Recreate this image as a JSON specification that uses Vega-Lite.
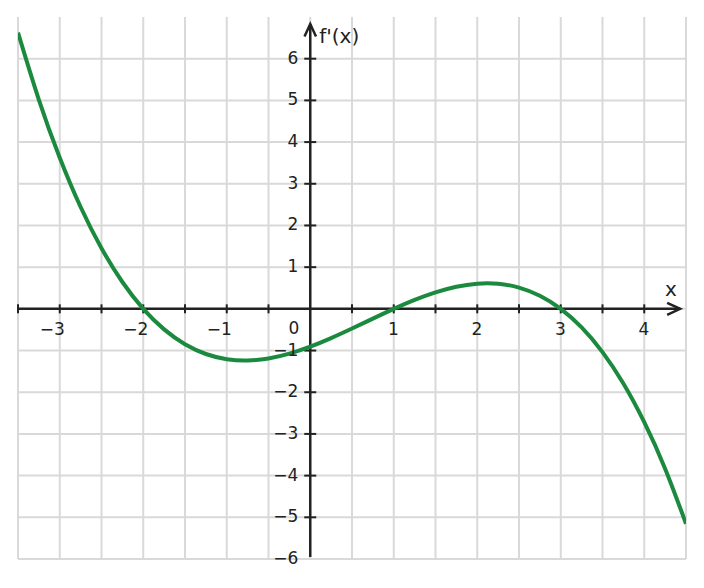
{
  "$schema": "https://vega.github.io/schema/vega-lite/v6.json",
  "width": 668,
  "height": 542,
  "autosize": {"type": "none"},
  "padding": {"left": 18, "top": 17, "right": 18, "bottom": 29},
  "background": "white",
  "config": {"view": {"stroke": null}},
  "layer": [
    {
      "data": {"values": [{"x": -3.5}, {"x": -3}, {"x": -2.5}, {"x": -2}, {"x": -1.5}, {"x": -1}, {"x": -0.5}, {"x": 0}, {"x": 0.5}, {"x": 1}, {"x": 1.5}, {"x": 2}, {"x": 2.5}, {"x": 3}, {"x": 3.5}, {"x": 4}, {"x": 4.5}]},
      "mark": {"type": "rule", "color": "#d9d9d9", "strokeWidth": 2},
      "encoding": {"x": {"field": "x", "type": "quantitative", "scale": {"domain": [-3.5, 4.5], "nice": false, "zero": false}, "axis": null}}
    },
    {
      "data": {"values": [{"y": -6}, {"y": -5}, {"y": -4}, {"y": -3}, {"y": -2}, {"y": -1}, {"y": 0}, {"y": 1}, {"y": 2}, {"y": 3}, {"y": 4}, {"y": 5}, {"y": 6}]},
      "mark": {"type": "rule", "color": "#d9d9d9", "strokeWidth": 2},
      "encoding": {"y": {"field": "y", "type": "quantitative", "scale": {"domain": [-6, 7], "nice": false, "zero": false}, "axis": null}}
    },
    {
      "data": {"values": [{"x": -3.5, "x2": 4.43, "y": 0, "y2": 0}, {"x": 0, "x2": 0, "y": -5.95, "y2": 6.83}]},
      "mark": {"type": "rule", "color": "#222222", "strokeWidth": 2.5},
      "encoding": {
        "x": {"field": "x", "type": "quantitative", "scale": {"domain": [-3.5, 4.5], "nice": false, "zero": false}, "axis": null},
        "x2": {"field": "x2"},
        "y": {"field": "y", "type": "quantitative", "scale": {"domain": [-6, 7], "nice": false, "zero": false}, "axis": null},
        "y2": {"field": "y2"}
      }
    },
    {
      "data": {"values": [{"x": -3.5, "y": 0}, {"x": -3, "y": 0}, {"x": -2.5, "y": 0}, {"x": -2, "y": 0}, {"x": -1.5, "y": 0}, {"x": -1, "y": 0}, {"x": -0.5, "y": 0}, {"x": 0.5, "y": 0}, {"x": 1, "y": 0}, {"x": 1.5, "y": 0}, {"x": 2, "y": 0}, {"x": 2.5, "y": 0}, {"x": 3, "y": 0}, {"x": 3.5, "y": 0}, {"x": 4, "y": 0}]},
      "mark": {"type": "tick", "orient": "vertical", "color": "#222222", "thickness": 2, "size": 9, "opacity": 1},
      "encoding": {
        "x": {"field": "x", "type": "quantitative", "scale": {"domain": [-3.5, 4.5], "nice": false, "zero": false}, "axis": null},
        "y": {"field": "y", "type": "quantitative", "scale": {"domain": [-6, 7], "nice": false, "zero": false}, "axis": null}
      }
    },
    {
      "data": {"values": [{"x": 0, "y": -5}, {"x": 0, "y": -4}, {"x": 0, "y": -3}, {"x": 0, "y": -2}, {"x": 0, "y": -1}, {"x": 0, "y": 1}, {"x": 0, "y": 2}, {"x": 0, "y": 3}, {"x": 0, "y": 4}, {"x": 0, "y": 5}, {"x": 0, "y": 6}]},
      "mark": {"type": "tick", "orient": "horizontal", "color": "#222222", "thickness": 2, "size": 12, "opacity": 1},
      "encoding": {
        "x": {"field": "x", "type": "quantitative", "scale": {"domain": [-3.5, 4.5], "nice": false, "zero": false}, "axis": null},
        "y": {"field": "y", "type": "quantitative", "scale": {"domain": [-6, 7], "nice": false, "zero": false}, "axis": null}
      }
    },
    {
      "data": {"values": [
        {"x": -3.5, "y": 6.625}, {"x": -3.25, "y": 5.014}, {"x": -3, "y": 3.624}, {"x": -2.75, "y": 2.442},
        {"x": -2.5, "y": 1.453}, {"x": -2.25, "y": 0.644}, {"x": -2, "y": 0}, {"x": -1.75, "y": -0.493},
        {"x": -1.5, "y": -0.849}, {"x": -1.25, "y": -1.083}, {"x": -1, "y": -1.208}, {"x": -0.75, "y": -1.239},
        {"x": -0.5, "y": -1.189}, {"x": -0.25, "y": -1.073}, {"x": 0, "y": -0.906}, {"x": 0.25, "y": -0.701},
        {"x": 0.5, "y": -0.472}, {"x": 0.75, "y": -0.234}, {"x": 1, "y": 0}, {"x": 1.25, "y": 0.215},
        {"x": 1.5, "y": 0.396}, {"x": 1.75, "y": 0.531}, {"x": 2, "y": 0.604}, {"x": 2.25, "y": 0.602},
        {"x": 2.5, "y": 0.51}, {"x": 2.75, "y": 0.314}, {"x": 3, "y": 0}, {"x": 3.25, "y": -0.446},
        {"x": 3.5, "y": -1.038}, {"x": 3.75, "y": -1.791}, {"x": 4, "y": -2.718}, {"x": 4.25, "y": -3.834},
        {"x": 4.5, "y": -5.153}
      ]},
      "mark": {"type": "line", "color": "#1b8a3e", "strokeWidth": 4, "interpolate": "natural", "clip": true},
      "encoding": {
        "x": {"field": "x", "type": "quantitative", "scale": {"domain": [-3.5, 4.5], "nice": false, "zero": false}, "axis": null},
        "y": {"field": "y", "type": "quantitative", "scale": {"domain": [-6, 7], "nice": false, "zero": false}, "axis": null}
      }
    },
    {
      "data": {"values": [{"x": 4.43, "y": 0}]},
      "mark": {"type": "point", "shape": "M-1,-0.46L0,0L-1,0.46", "size": 676, "filled": false, "stroke": "#222222", "strokeWidth": 2.5, "opacity": 1},
      "encoding": {
        "x": {"field": "x", "type": "quantitative", "scale": {"domain": [-3.5, 4.5], "nice": false, "zero": false}, "axis": null},
        "y": {"field": "y", "type": "quantitative", "scale": {"domain": [-6, 7], "nice": false, "zero": false}, "axis": null}
      }
    },
    {
      "data": {"values": [{"x": 0, "y": 6.83}]},
      "mark": {"type": "point", "shape": "M-0.46,1L0,0L0.46,1", "size": 625, "filled": false, "stroke": "#222222", "strokeWidth": 2.5, "opacity": 1},
      "encoding": {
        "x": {"field": "x", "type": "quantitative", "scale": {"domain": [-3.5, 4.5], "nice": false, "zero": false}, "axis": null},
        "y": {"field": "y", "type": "quantitative", "scale": {"domain": [-6, 7], "nice": false, "zero": false}, "axis": null}
      }
    },
    {
      "data": {"values": [{"x": -3, "y": 0, "t": "−3"}, {"x": -2, "y": 0, "t": "−2"}, {"x": -1, "y": 0, "t": "−1"}, {"x": 1, "y": 0, "t": "1"}, {"x": 2, "y": 0, "t": "2"}, {"x": 3, "y": 0, "t": "3"}, {"x": 4, "y": 0, "t": "4"}]},
      "mark": {"type": "text", "font": "DejaVu Sans", "fontSize": 17, "color": "#222222", "align": "right", "baseline": "alphabetic", "dx": 5, "dy": 26.5},
      "encoding": {
        "x": {"field": "x", "type": "quantitative", "scale": {"domain": [-3.5, 4.5], "nice": false, "zero": false}, "axis": null},
        "y": {"field": "y", "type": "quantitative", "scale": {"domain": [-6, 7], "nice": false, "zero": false}, "axis": null},
        "text": {"field": "t"}
      }
    },
    {
      "data": {"values": [{"x": 0, "y": 6, "t": "6"}, {"x": 0, "y": 5, "t": "5"}, {"x": 0, "y": 4, "t": "4"}, {"x": 0, "y": 3, "t": "3"}, {"x": 0, "y": 2, "t": "2"}, {"x": 0, "y": 1, "t": "1"}, {"x": 0, "y": -1, "t": "−1"}, {"x": 0, "y": -2, "t": "−2"}, {"x": 0, "y": -3, "t": "−3"}, {"x": 0, "y": -4, "t": "−4"}, {"x": 0, "y": -5, "t": "−5"}, {"x": 0, "y": -6, "t": "−6"}]},
      "mark": {"type": "text", "font": "DejaVu Sans", "fontSize": 17, "color": "#222222", "align": "right", "baseline": "alphabetic", "dx": -12, "dy": 5},
      "encoding": {
        "x": {"field": "x", "type": "quantitative", "scale": {"domain": [-3.5, 4.5], "nice": false, "zero": false}, "axis": null},
        "y": {"field": "y", "type": "quantitative", "scale": {"domain": [-6, 7], "nice": false, "zero": false}, "axis": null},
        "text": {"field": "t"}
      }
    },
    {
      "data": {"values": [{"x": 0, "y": 0, "t": "0"}]},
      "mark": {"type": "text", "font": "DejaVu Sans", "fontSize": 17, "color": "#222222", "align": "right", "baseline": "alphabetic", "dx": -11, "dy": 25.5},
      "encoding": {
        "x": {"field": "x", "type": "quantitative", "scale": {"domain": [-3.5, 4.5], "nice": false, "zero": false}, "axis": null},
        "y": {"field": "y", "type": "quantitative", "scale": {"domain": [-6, 7], "nice": false, "zero": false}, "axis": null},
        "text": {"field": "t"}
      }
    },
    {
      "data": {"values": [{"x": 0, "y": 7, "t": "f'(x)"}]},
      "mark": {"type": "text", "font": "DejaVu Sans", "fontSize": 20, "color": "#222222", "align": "left", "baseline": "alphabetic", "dx": 9, "dy": 26},
      "encoding": {
        "x": {"field": "x", "type": "quantitative", "scale": {"domain": [-3.5, 4.5], "nice": false, "zero": false}, "axis": null},
        "y": {"field": "y", "type": "quantitative", "scale": {"domain": [-6, 7], "nice": false, "zero": false}, "axis": null},
        "text": {"field": "t"}
      }
    },
    {
      "data": {"values": [{"x": 4.5, "y": 0, "t": "x"}]},
      "mark": {"type": "text", "font": "DejaVu Sans", "fontSize": 20, "color": "#222222", "align": "left", "baseline": "alphabetic", "dx": -21, "dy": -12.5},
      "encoding": {
        "x": {"field": "x", "type": "quantitative", "scale": {"domain": [-3.5, 4.5], "nice": false, "zero": false}, "axis": null},
        "y": {"field": "y", "type": "quantitative", "scale": {"domain": [-6, 7], "nice": false, "zero": false}, "axis": null},
        "text": {"field": "t"}
      }
    }
  ]
}
